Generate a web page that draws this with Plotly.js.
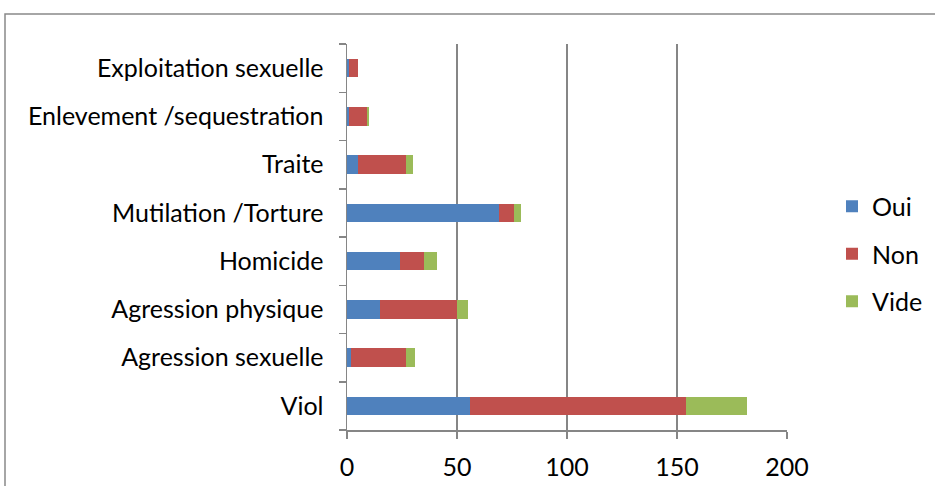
<!DOCTYPE html>
<html>
<head>
<meta charset="utf-8">
<script src="https://cdn.plot.ly/plotly-3.0.1.min.js"></script>
<style>html,body{margin:0;padding:0;background:#fff;}#chart{width:935px;height:486px;}</style>
</head>
<body>
<div id="chart"></div>
<script>
var categories = ["Viol", "Agression sexuelle", "Agression physique", "Homicide", "Mutilation /Torture", "Traite", "Enlevement /sequestration", "Exploitation sexuelle"];
var oui  = [56, 2, 15, 24, 69, 5, 1, 1];
var non  = [98, 25, 35, 11, 7, 22, 8, 4];
var vide = [28, 4, 5, 6, 3, 3, 1, 0];
var seriesNames = ["Oui", "Non", "Vide"];
var xTicks = [0, 50, 100, 150, 200];

var colors = ["#4F81BD", "#C0504D", "#9BBB59"];
var fontFam = "Lato, 'Noto Sans', sans-serif";
var seriesVals = [oui, non, vide];
var traces = seriesVals.map(function (v, i) {
  return {
    type: "bar", orientation: "h", x: v, y: categories, name: seriesNames[i],
    legendgroup: "g" + i,
    marker: {color: colors[i], line: {width: 0}},
    hoverinfo: "x+y+name"
  };
});

var L = 347, R = 787, T = 44, B = 430, W = 935, H = 486;
var pw = R - L, ph = B - T;
function px(x) { return (x - L) / pw; }
function py(y) { return (B - y) / ph; }

var layout = {
  width: W, height: H,
  margin: {l: L, r: W - R, t: T, b: H - B, pad: 0, autoexpand: false},
  paper_bgcolor: "#fff", plot_bgcolor: "#fff",
  barmode: "stack", bargap: 0.62,
  font: {family: fontFam, size: 25, color: "#000"},
  xaxis: {
    range: [0, 200], tickvals: xTicks, ticktext: xTicks.map(String),
    showgrid: true, gridcolor: "#868686", gridwidth: 1.5,
    showline: true, linecolor: "#868686", linewidth: 1.5,
    ticks: "outside", ticklen: 7, tickwidth: 1.5, tickcolor: "#868686",
    ticklabelstandoff: 7, zeroline: false, fixedrange: true, automargin: false,
    tickfont: {family: fontFam, size: 25, color: "#000"}
  },
  yaxis: {
    type: "category", categoryorder: "array", categoryarray: categories,
    showline: true, linecolor: "#868686", linewidth: 1.5,
    ticks: "outside", ticklen: 7, tickwidth: 1.5, tickcolor: "#868686",
    tickson: "boundaries", showgrid: false, ticklabelstandoff: 17,
    fixedrange: true, automargin: false,
    tickfont: {family: fontFam, size: 25, color: "#000"}
  },
  legend: {
    x: px(832), xanchor: "left", y: py(254), yanchor: "middle",
    traceorder: "grouped", tracegroupgap: 12,
    font: {family: fontFam, size: 25, color: "#000"},
    bgcolor: "rgba(0,0,0,0)", itemclick: false, itemdoubleclick: false
  },
  shapes: [{
    type: "rect", xref: "paper", yref: "paper",
    x0: px(5), x1: px(960), y0: py(520), y1: py(14),
    line: {color: "#898989", width: 1.5}, fillcolor: "rgba(0,0,0,0)"
  }],
  showlegend: true
};

Plotly.newPlot("chart", traces, layout, {displayModeBar: false, staticPlot: true});
</script>
</body>
</html>
